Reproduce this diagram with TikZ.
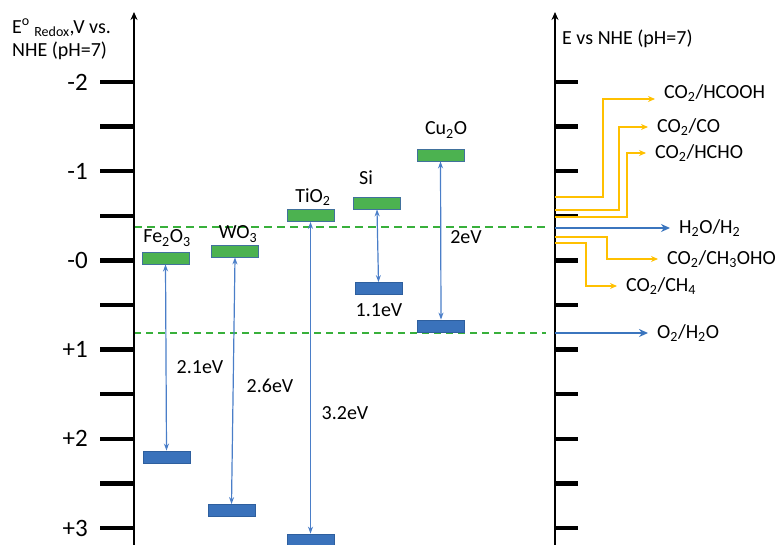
\documentclass[tikz,border=0pt]{standalone}
\usepackage{fontspec}
\setmainfont{Carlito}
\usetikzlibrary{arrows.meta}
\definecolor{cbfill}{RGB}{76,178,80}
\definecolor{cbedge}{RGB}{65,113,156}
\definecolor{vbfill}{RGB}{58,114,187}
\definecolor{vbedge}{RGB}{46,95,158}
\definecolor{gapblue}{RGB}{74,126,200}
\definecolor{refblue}{RGB}{59,117,190}
\definecolor{refyellow}{RGB}{255,192,0}
\definecolor{dashgreen}{RGB}{56,176,59}

\begin{document}
\begin{tikzpicture}[x=1pt, y=-1pt,
  axis/.style={line width=2.6pt, -{Stealth[length=8pt,width=7pt]}},
  tickmark/.style={line width=4.5pt},
  cband/.style={draw=cbedge, fill=cbfill, line width=0.8pt, minimum width=47pt, minimum height=12pt, inner sep=0pt},
  vband/.style={draw=vbedge, fill=vbfill, line width=0.8pt, minimum width=47pt, minimum height=12pt, inner sep=0pt},
  gap/.style={draw=gapblue, line width=1.2pt, {Stealth[length=7pt,width=5pt]}-{Stealth[length=7pt,width=5pt]}},
  lbl/.style={font=\fontsize{20}{23}\selectfont, inner sep=0pt},
  ticklbl/.style={font=\fontsize{25}{28}\selectfont, inner sep=0pt, anchor=east},
  rlbl/.style={font=\fontsize{20}{23}\selectfont, anchor=west, inner xsep=9pt, inner ysep=0pt},
  bluearr/.style={draw=refblue, line width=2.2pt, -{Stealth[length=9pt,width=8pt]}},
  yarr/.style={draw=refyellow, line width=1.3pt, -{Stealth[length=7pt,width=6pt]}}]
  \useasboundingbox (0,0) rectangle (784,544);

  % reference levels (H2O/H2 and O2/H2O)
  \draw[dashgreen, line width=1.8pt, dash pattern=on 8pt off 5pt] (134,227) -- (546,227);
  \draw[dashgreen, line width=1.1pt, dash pattern=on 7pt off 5pt] (134,333) -- (546,333);

  % left axis
  \coordinate (laxbot) at (134,548);
  \coordinate (laxtop) at (134,12);
  \draw[axis] (laxbot) -- (laxtop);
  \foreach \i in {0,...,10}
    \draw[tickmark] (100,{82+44.6*\i}) -- (134,{82+44.6*\i});
  \foreach \lab/\i in {-2/0, -1/2, -0/4, +1/6, +2/8, +3/10}
    \node[ticklbl] (tick\i) at (88,{82+44.6*\i}) {\lab};
  \node[lbl, anchor=north west, align=left] (ltitle) at (12,19)
    {E\textsuperscript{o} \textsubscript{Redox},V vs.\\NHE (pH=7)};

  % right axis
  \coordinate (raxbot) at (555,548);
  \coordinate (raxtop) at (555,12);
  \draw[axis] (raxbot) -- (raxtop);
  \foreach \i in {0,...,10}
    \draw[tickmark] (555,{82+44.6*\i}) -- (578,{82+44.6*\i});
  \node[lbl, anchor=west] (rtitle) at (562,39) {E vs NHE (pH=7)};

  % band edges
  \node[cband] (fe-cb) at (165.5,258) {};
  \node[vband] (fe-vb) at (166.5,457) {};
  \node[cband] (wo-cb) at (235,251) {};
  \node[vband] (wo-vb) at (231.5,510.5) {};
  \node[cband] (ti-cb) at (310.5,215.5) {};
  \node[vband] (ti-vb) at (310.5,540) {};
  \node[cband] (si-cb) at (377,203) {};
  \node[vband] (si-vb) at (378.5,288.5) {};
  \node[cband] (cu-cb) at (440.5,155) {};
  \node[vband] (cu-vb) at (441,326) {};

  \node[lbl] (fe-name) at (167,238) {Fe\textsubscript{2}O\textsubscript{3}};
  \node[lbl] (wo-name) at (238,234) {WO\textsubscript{3}};
  \node[lbl] (ti-name) at (313,197) {TiO\textsubscript{2}};
  \node[lbl] (si-name) at (366,178) {Si};
  \node[lbl] (cu-name) at (446,130) {Cu\textsubscript{2}O};

  \draw[gap] (fe-cb.south) -- (fe-vb.north);
  \draw[gap] (wo-cb.south) -- (wo-vb.north);
  \draw[gap] (ti-cb.south) -- (ti-vb.north);
  \draw[gap] (si-cb.south) -- (si-vb.north);
  \draw[gap] (cu-cb.south) -- (cu-vb.north);

  \node[lbl] (fe-gap) at (200,367) {2.1eV};
  \node[lbl] (wo-gap) at (270,386) {2.6eV};
  \node[lbl] (ti-gap) at (345,413) {3.2eV};
  \node[lbl] (si-gap) at (379,310) {1.1eV};
  \node[lbl] (cu-gap) at (466,237) {2eV};

  % redox couples
  \coordinate (h2-from) at (555,228);
  \node[rlbl] (h2) at (670,228) {H\textsubscript{2}O/H\textsubscript{2}};
  \draw[bluearr] (h2-from) -- (h2);
  \coordinate (o2-from) at (555,333);
  \node[rlbl] (o2) at (648,333) {O\textsubscript{2}/H\textsubscript{2}O};
  \draw[bluearr] (o2-from) -- (o2);

  \coordinate (hcooh-from) at (555,197);
  \node[rlbl] (hcooh) at (655,93) {CO\textsubscript{2}/HCOOH};
  \draw[yarr] (hcooh-from) -- ++(48,0) |- ([yshift=-6pt]hcooh.west);
  \coordinate (co-from) at (555,210);
  \node[rlbl] (co) at (648,127) {CO\textsubscript{2}/CO};
  \draw[yarr] (co-from) -- ++(64,0) |- (co);
  \coordinate (hcho-from) at (555,217);
  \node[rlbl] (hcho) at (646,153) {CO\textsubscript{2}/HCHO};
  \draw[yarr] (hcho-from) -- ++(72,0) |- (hcho);
  \coordinate (ch3-from) at (555,237);
  \node[rlbl] (ch3) at (658,259) {CO\textsubscript{2}/CH\textsubscript{3}OHO};
  \draw[yarr] (ch3-from) -- ++(52,0) |- (ch3);
  \coordinate (ch4-from) at (555,243);
  \node[rlbl] (ch4) at (617,286) {CO\textsubscript{2}/CH\textsubscript{4}};
  \draw[yarr] (ch4-from) -- ++(31,0) |- (ch4);
\end{tikzpicture}
\end{document}
